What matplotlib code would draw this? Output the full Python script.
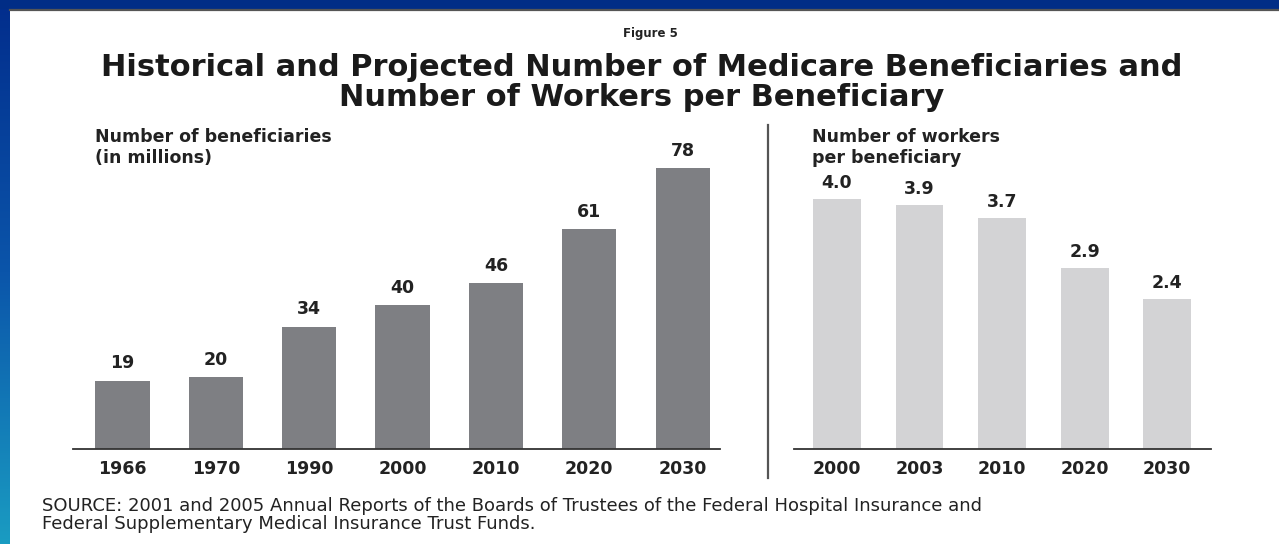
import numpy as np
import matplotlib.pyplot as plt
from matplotlib.patches import Rectangle
from matplotlib.lines import Line2D
from matplotlib.colors import LinearSegmentedColormap

# beneficiaries (millions)
years_ben = ['1966', '1970', '1990', '2000', '2010', '2020', '2030']
beneficiaries = [19, 20, 34, 40, 46, 61, 78]

# workers per beneficiary
years_wpb = ['2000', '2003', '2010', '2020', '2030']
workers_per_ben = [4.0, 3.9, 3.7, 2.9, 2.4]

W, H = 1279, 544
FONT = 'DejaVu Sans'
INK = '#222222'


def px_box(x0, y0, x1, y1):
    # pixel box (top-left origin) -> figure fraction rect
    return [x0 / W, 1 - y1 / H, (x1 - x0) / W, (y1 - y0) / H]


fig = plt.figure(figsize=(W / 100, H / 100), dpi=100)
fig.patch.set_facecolor('white')

# blue frame: band on top, gradient strip on the left
fig.patches.append(Rectangle((0, 1 - 8 / H), 1, 8 / H, transform=fig.transFigure,
                             color='#012d86', zorder=0))
fig.lines.append(Line2D([10 / W, 1], [1 - 10 / H, 1 - 10 / H], transform=fig.transFigure,
                        color='#555555', lw=1.6))
strip = fig.add_axes(px_box(0, 0, 10, H))
grad = np.linspace(0, 1, 256).reshape(-1, 1)
cmap = LinearSegmentedColormap.from_list('edge', ['#022d8c', '#0b55aa', '#1a9cc2'])
strip.imshow(grad, aspect='auto', cmap=cmap, extent=[0, 1, 0, 1], origin='upper')
strip.axis('off')

# headings
fig.text(650 / W, 1 - 34 / H, 'Figure 5', ha='center', va='center', fontsize=8.5,
         fontweight='bold', family=FONT, color=INK)
fig.text(642 / W, 1 - 68 / H, 'Historical and Projected Number of Medicare Beneficiaries and',
         ha='center', va='center', fontsize=22, fontweight='bold', family=FONT, color='#1a1a1a')
fig.text(642 / W, 1 - 98 / H, 'Number of Workers per Beneficiary',
         ha='center', va='center', fontsize=22, fontweight='bold', family=FONT, color='#1a1a1a')

base_y = 449

# left panel
ax1 = fig.add_axes(px_box(73, 120, 720, base_y))
x1 = np.arange(len(years_ben))
ax1.bar(x1, beneficiaries, width=0.58, color='#7e7f83')
ax1.set_xlim(-0.53, 6.40)
ax1.set_ylim(0, (base_y - 120) / 3.6)
for xi, v in zip(x1, beneficiaries):
    ax1.annotate(f'{v}', (xi, v), xytext=(0, 6), textcoords='offset points',
                 ha='center', va='bottom', fontsize=12.5, fontweight='bold',
                 family=FONT, color=INK)
ax1.set_xticks(x1)
ax1.set_xticklabels(years_ben)
fig.text(95 / W, 1 - 137 / H, 'Number of beneficiaries', ha='left', va='center',
         fontsize=12.5, fontweight='bold', family=FONT, color=INK)
fig.text(95 / W, 1 - 158 / H, '(in millions)', ha='left', va='center',
         fontsize=12.5, fontweight='bold', family=FONT, color=INK)

# right panel
ax2 = fig.add_axes(px_box(794, 120, 1211, base_y))
x2 = np.arange(len(years_wpb))
ax2.bar(x2, workers_per_ben, width=0.58, color='#d3d3d5')
ax2.set_xlim(-0.52, 4.53)
ax2.set_ylim(0, (base_y - 120) / 62.5)
for xi, v in zip(x2, workers_per_ben):
    ax2.annotate(f'{v:.1f}', (xi, v), xytext=(0, 5), textcoords='offset points',
                 ha='center', va='bottom', fontsize=12.5, fontweight='bold',
                 family=FONT, color=INK)
ax2.set_xticks(x2)
ax2.set_xticklabels(years_wpb)
fig.text(812 / W, 1 - 137 / H, 'Number of workers', ha='left', va='center',
         fontsize=12.5, fontweight='bold', family=FONT, color=INK)
fig.text(812 / W, 1 - 158 / H, 'per beneficiary', ha='left', va='center',
         fontsize=12.5, fontweight='bold', family=FONT, color=INK)

for ax in (ax1, ax2):
    ax.set_facecolor('none')
    for s in ('top', 'right', 'left'):
        ax.spines[s].set_visible(False)
    ax.spines['bottom'].set_color('#333333')
    ax.spines['bottom'].set_linewidth(1.3)
    ax.set_yticks([])
    ax.tick_params(axis='x', length=0, pad=8)
    for lab in ax.get_xticklabels():
        lab.set_fontsize(12.5)
        lab.set_fontweight('bold')
        lab.set_family(FONT)
        lab.set_color(INK)

# divider between the two panels
fig.lines.append(Line2D([768 / W, 768 / W], [1 - 125 / H, 1 - 478 / H], transform=fig.transFigure,
                        color='#555555', lw=1.6))

fig.text(42 / W, 1 - 506 / H,
         'SOURCE: 2001 and 2005 Annual Reports of the Boards of Trustees of the Federal Hospital Insurance and',
         ha='left', va='center', fontsize=13, family=FONT, color=INK)
fig.text(42 / W, 1 - 524 / H, 'Federal Supplementary Medical Insurance Trust Funds.',
         ha='left', va='center', fontsize=13, family=FONT, color=INK)

fig.savefig('out.png', dpi=100)
